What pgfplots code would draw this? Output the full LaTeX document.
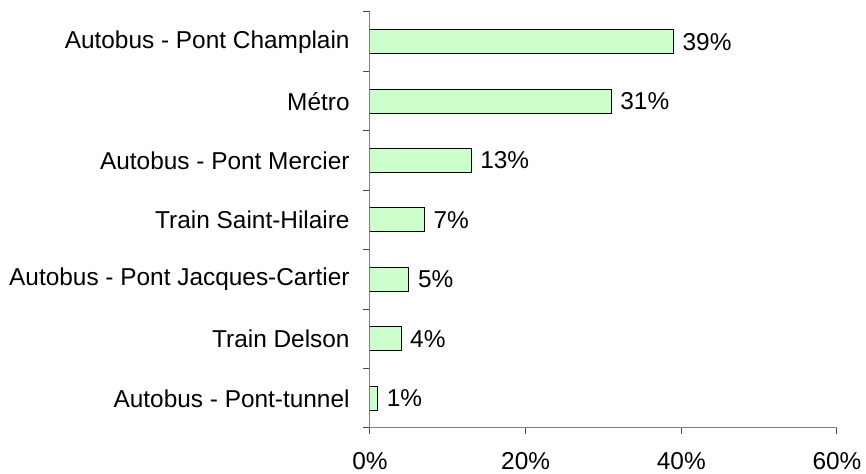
\documentclass[border=0pt]{standalone}
\usepackage{pgfplots}
\pgfplotsset{compat=1.18}
\usepackage{fontspec}
\setmainfont{Liberation Sans}
\definecolor{barfill}{RGB}{204,255,204}
\definecolor{axisgray}{RGB}{128,128,128}

\begin{document}
\begin{tikzpicture}
\begin{axis}[
  scale only axis, width=233.5pt, height=208pt,
  at={(0,0)}, anchor=south west,
  xmin=0, xmax=60, ymin=0.5, ymax=7.5,
  axis lines*=left,
  axis line style={axisgray, line width=0.5pt},
  xtick={0,20,40,60},
  xticklabel={\pgfmathprintnumber[assume math mode=true]{\tick}\%},
  ytick={1,...,7},
  yticklabels={Autobus - Pont-tunnel, Train Delson, Autobus - Pont Jacques-Cartier,
    Train Saint-Hilaire, Autobus - Pont Mercier, Métro, Autobus - Pont Champlain},
  minor ytick={0.5,1.5,...,7.5},
  tick align=outside,
  major tick length=3pt, minor tick length=3.5pt,
  every y tick/.style={draw=none},
  every minor y tick/.style={draw=black!70, line width=0.5pt},
  every x tick/.style={black!70, line width=0.5pt},
  tick label style={font=\fontsize{12.2}{14.6}\selectfont, inner sep=0pt},
  yticklabel style={anchor=east, xshift=-7pt},
  xticklabel style={anchor=north, yshift=-9pt},
  xbar, bar width=12pt,
  nodes near coords={\pgfmathprintnumber[assume math mode=true]{\pgfplotspointmeta}\%},
  every node near coord/.style={font=\fontsize{12.2}{14.6}\selectfont,
    anchor=west, inner sep=0pt, xshift=4.3pt, black},
]
\addplot[draw=black, line width=0.5pt, fill=barfill] coordinates {
  (1,1) (4,2) (5,3) (7,4) (13,5) (31,6) (39,7)};
\end{axis}
\pgfresetboundingbox
\path (-185pt,-23pt) rectangle (248pt,214pt);
\end{tikzpicture}
\end{document}
